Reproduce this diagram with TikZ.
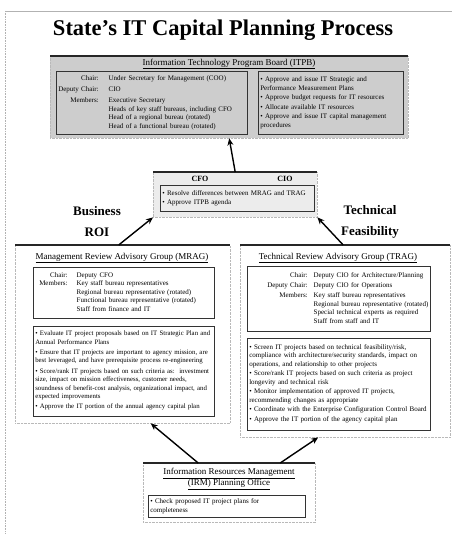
\documentclass[tikz,border=0pt]{standalone}
\usepackage{fontspec}
\setmainfont{Liberation Serif}
\usetikzlibrary{arrows.meta, positioning, calc}

\definecolor{grisTablero}{RGB}{205,205,205}
\definecolor{grisCxO}{RGB}{236,236,236}
\newcommand{\cuerpo}{\fontsize{7}{8.5}\selectfont}

\begin{document}
\begin{tikzpicture}[x=1pt, y=-1pt,
  frame/.style={rectangle, draw=gray!55, densely dotted, inner sep=0pt, anchor=north west},
  topbar/.style={line width=1.3pt, black!85},
  inbox/.style={rectangle, draw=black!80, line width=0.5pt, inner sep=2pt,
                anchor=north west, align=left, font=\cuerpo},
  hdr/.style={font=\fontsize{9}{10}\selectfont, align=center, inner sep=1pt},
  side/.style={font=\bfseries\fontsize{13}{21}\selectfont, align=center},
  arr/.style={-{Stealth[length=7pt, width=6pt]}, line width=1.4pt}
]
  \useasboundingbox (0,0) rectangle (452,534);
  % scan edge
  \draw[gray!60, line width=0.6pt] (5,11) -- (452,11);
  \draw[gray!60, densely dotted, line width=0.6pt] (5,11) -- (5,534);

  \node[font=\bfseries\fontsize{22.5}{26}\selectfont] (title) at (223,30) {State's IT Capital Planning Process};

  % ITPB
  \node[frame, fill=grisTablero, minimum width=358pt, minimum height=82pt] (itpb) at (50,56) {};
  \draw[topbar] (itpb.north west) -- (itpb.north east);
  \node[hdr] (itpbT) at (229,64) {\underline{Information Technology Program Board (ITPB)}};
  \node[inbox, text width=187pt, minimum height=63pt] (itpbL) at (56,71) {%
    \begin{tabular}{@{}r@{\hspace{10pt}}l@{}}
      Chair: & Under Secretary for Management (COO)\\[2.5pt]
      Deputy Chair: & CIO\\[3pt]
      Members: & Executive Secretary\\
      & Heads of key staff bureaus, including CFO\\
      & Head of a regional bureau (rotated)\\
      & Head of a functional bureau (rotated)
    \end{tabular}};
  \node[inbox, text width=141pt, minimum height=63pt] (itpbR) at (258,71) {%
    \textbullet\ Approve and issue IT Strategic and\\
    Performance Measurement Plans\\[1pt]
    \textbullet\ Approve budget requests for IT resources\\[1pt]
    \textbullet\ Allocate available IT resources\\[1pt]
    \textbullet\ Approve and issue IT capital management\\
    procedures};

  % CFO / CIO
  \node[frame, fill=grisCxO, minimum width=164pt, minimum height=45pt] (cxo) at (153,172) {};
  \draw[topbar] (cxo.north west) -- (cxo.north east);
  \node[font=\bfseries\fontsize{8}{9}\selectfont] (cfo) at (200,179) {CFO};
  \node[font=\bfseries\fontsize{8}{9}\selectfont] (cio) at (285,179) {CIO};
  \node[inbox, text width=150pt, minimum height=26pt] (cxoB) at (160,185) {%
    \textbullet\ Resolve differences between MRAG and TRAG\\[1pt]
    \textbullet\ Approve ITPB agenda};

  \node[side] (roi) at (97,222) {Business\\ROI};
  \node[side] (feas) at (370,222) {Technical\\Feasibility};

  % MRAG
  \node[frame, minimum width=215pt, minimum height=178pt] (mrag) at (15,245) {};
  \draw[topbar] (mrag.north west) -- (mrag.north east);
  \node[hdr] (mragT) at (122,258) {\underline{Management Review Advisory Group (MRAG)}};
  \node[inbox, text width=177pt, minimum height=51pt] (mrag1) at (33,267) {%
    \begin{tabular}{@{\hspace{4pt}}r@{\hspace{9pt}}l@{}}
      Chair: & Deputy CFO\\
      Members: & Key staff bureau representatives\\
      & Regional bureau representative (rotated)\\
      & Functional bureau representative (rotated)\\
      & Staff from finance and IT
    \end{tabular}};
  \node[inbox, text width=177pt, minimum height=90pt, font=\fontsize{6.8}{8.4}\selectfont,
        below=7pt of mrag1] (mrag2) {%
    \textbullet\ Evaluate IT project proposals based on IT Strategic Plan and\\
    Annual Performance Plans\\[2pt]
    \textbullet\ Ensure that IT projects are important to agency mission, are\\
    best leveraged, and have prerequisite process re-engineering\\[2pt]
    \textbullet\ Score/rank IT projects based on such criteria as:\ \ investment\\
    size, impact on mission effectiveness, customer needs,\\
    soundness of benefit-cost analysis, organizational impact, and\\
    expected improvements\\[2pt]
    \textbullet\ Approve the IT portion of the annual agency capital plan};

  % TRAG
  \node[frame, minimum width=210pt, minimum height=192pt] (trag) at (240,245) {};
  \draw[topbar] (trag.north west) -- (trag.north east);
  \node[hdr] (tragT) at (338,258) {\underline{Technical Review Advisory Group (TRAG)}};
  \node[inbox, text width=179pt, minimum height=65pt] (trag1) at (247,266) {%
    \begin{tabular}{@{\hspace{18pt}}r@{\hspace{6pt}}l@{}}
      Chair: & Deputy CIO for Architecture/Planning\\[1pt]
      Deputy Chair: & Deputy CIO for Operations\\[2pt]
      Members: & Key staff bureau representatives\\
      & Regional bureau representative (rotated)\\
      & Special technical experts as required\\
      & Staff from staff and IT
    \end{tabular}};
  \node[inbox, text width=179pt, minimum height=92pt, below=6pt of trag1] (trag2) {%
    \textbullet\ Screen IT projects based on technical feasibility/risk,\\
    compliance with architecture/security standards, impact on\\
    operations, and relationship to other projects\\[1pt]
    \textbullet\ Score/rank IT projects based on such criteria as project\\
    longevity and technical risk\\[1pt]
    \textbullet\ Monitor implementation of approved IT projects,\\
    recommending changes as appropriate\\[1pt]
    \textbullet\ Coordinate with the Enterprise Configuration Control Board\\[1pt]
    \textbullet\ Approve the IT portion of the agency capital plan};

  % IRM
  \node[frame, minimum width=172pt, minimum height=59pt] (irm) at (143,463) {};
  \draw[topbar] (irm.north west) -- (irm.north east);
  \node[hdr] (irmT) at (229,479) {\underline{Information Resources Management}\\\underline{(IRM) Planning Office}};
  \node[inbox, text width=153pt, minimum height=22pt] (irmB) at (148,495) {%
    \textbullet\ Check proposed IT project plans for\\
    completeness};

  \draw[arr] (cxo.north) -- (itpb.south);
  \draw[arr] ([xshift=-4pt]mrag.north) -- (cxo.south west);
  \draw[arr] ([xshift=-2pt]trag.north) -- (cxo.south east);
  \draw[arr] ([xshift=-31pt]irm.north) -- ([xshift=28pt]mrag.south);
  \draw[arr] ([xshift=51pt]irm.north) -- ([xshift=-27pt]trag.south);
\end{tikzpicture}
\end{document}
